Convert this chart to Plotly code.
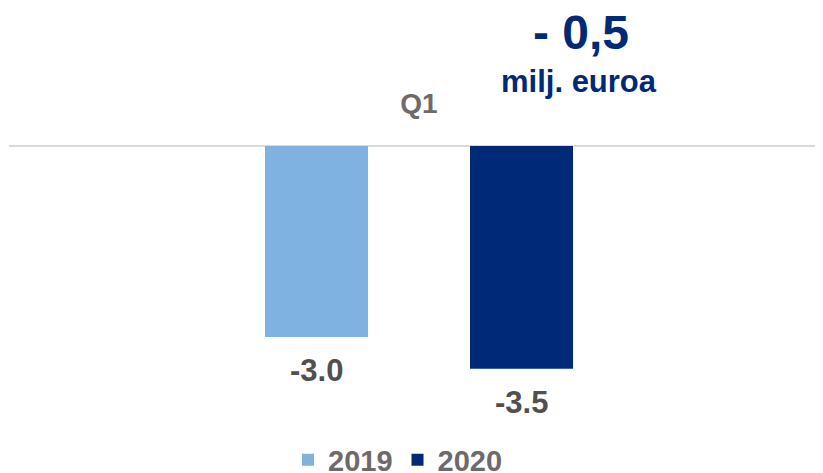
import plotly.graph_objects as go

categories = ["Q1"]
years = ["2019", "2020"]
values_2019 = [-3.0]
values_2020 = [-3.5]
label_texts = ["-3.0", "-3.5"]
headline = "- 0,5"
headline_unit = "milj. euroa"

colors = {"2019": "#7FB2E0", "2020": "#002A78"}
series = {"2019": values_2019, "2020": values_2020}

FONT = "Liberation Sans, Arial, sans-serif"
W, H = 823, 473
OFF = 8  # page body margin offset (screen px -> figure px)
ML, MR, MT, MB = 1, 0, 122, 61
plot_w = W - ML - MR
plot_h = H - MT - MB


def px_to_paper(xs, ys):
    xf, yf = xs - OFF, ys - OFF
    return (xf - ML) / plot_w, (H - MB - yf) / plot_h


fig = go.Figure()
for yr in years:
    fig.add_trace(go.Bar(
        x=categories, y=series[yr], name="<b>" + yr + "</b>",
        marker=dict(color=colors[yr], line=dict(width=0)),
        hoverinfo="skip",
    ))

# data labels below bars
slot_px = 205
for i, yr in enumerate(years):
    fig.add_annotation(
        x=categories[0], y=series[yr][0], xref="x", yref="y",
        text="<b>" + label_texts[i] + "</b>", showarrow=False,
        xshift=(i - 0.5) * slot_px, xanchor="center", yanchor="top", yshift=-14,
        font=dict(family=FONT, size=31, color="#524F4F"),
    )

hx, hy = px_to_paper(581, 32)
fig.add_annotation(x=hx, y=hy, xref="paper", yref="paper", text="<b>" + headline + "</b>",
                   xanchor="center", yanchor="middle",
                   showarrow=False, font=dict(family=FONT, size=48, color="#002A78"))
ux, uy = px_to_paper(579, 81)
fig.add_annotation(x=ux, y=uy, xref="paper", yref="paper", text="<b>" + headline_unit + "</b>",
                   xanchor="center", yanchor="middle",
                   showarrow=False, font=dict(family=FONT, size=31, color="#002A78"))

fig.update_layout(
    width=W, height=H,
    margin=dict(l=ML, r=MR, t=MT, b=MB, autoexpand=False),
    paper_bgcolor="white", plot_bgcolor="white",
    barmode="group", bargap=1 - 410 / plot_w, bargroupgap=0.4976,
    showlegend=True,
    legend=dict(orientation="h", x=(398 - OFF) / W, xref="container", xanchor="center",
                y=1 - (460 - OFF) / H, yref="container", yanchor="middle",
                font=dict(family=FONT, size=29, color="#6E6A6A"),
                itemclick=False, tracegroupgap=0),
    xaxis=dict(side="top", showline=False, showgrid=False, ticks="",
               automargin=False,
               range=[-(411 - ML) / plot_w, 1 - (411 - ML) / plot_w],
               tickvals=categories, ticktext=["<b>" + c + "</b>" for c in categories],
               tickfont=dict(family=FONT, size=28, color="#6E6A6A"),
               ticklabelstandoff=10),
    yaxis=dict(range=[-4.303, 0.2513], showticklabels=False, showgrid=False,
               automargin=False,
               zeroline=True, zerolinecolor="#D9D9D9", zerolinewidth=2,
               showline=False),
)

fig.write_html("out.html")
